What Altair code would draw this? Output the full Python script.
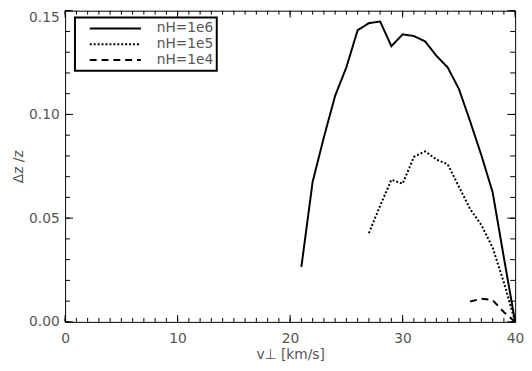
import altair as alt
import pandas as pd

# ---- data ----
series_names = ["nH=1e6", "nH=1e5", "nH=1e4"]

v_1e6 = [21, 22, 23, 24, 25, 26, 27, 28, 29, 30, 31, 32, 33, 34, 35, 36, 37, 38, 39, 40]
dz_1e6 = [0.0265, 0.0675, 0.089, 0.109, 0.1227, 0.1406, 0.1440, 0.1448, 0.1329, 0.1386,
          0.1378, 0.1352, 0.1283, 0.1227, 0.1123, 0.0967, 0.0803, 0.0625, 0.031, 0.0]

v_1e5 = [27, 28, 29, 30, 31, 32, 33, 34, 35, 36, 37, 38, 39, 40]
dz_1e5 = [0.0428, 0.056, 0.0685, 0.0666, 0.0795, 0.0822, 0.0783, 0.0760, 0.0652, 0.0544,
          0.0467, 0.0358, 0.019, 0.0]

v_1e4 = [36, 37, 38, 39, 40]
dz_1e4 = [0.0098, 0.0112, 0.0105, 0.0047, 0.0]

x_major = [0, 10, 20, 30, 40]
x_minor = list(range(0, 41))
y_major = [0.0, 0.05, 0.10, 0.15]
y_minor = [0.0, 0.01, 0.02, 0.03, 0.04, 0.05, 0.06, 0.07, 0.08, 0.09, 0.10,
           0.11, 0.12, 0.13, 0.14, 0.15]

# ---- build table ----
rows = []
for name, vs, ds in [(series_names[0], v_1e6, dz_1e6),
                     (series_names[1], v_1e5, dz_1e5),
                     (series_names[2], v_1e4, dz_1e4)]:
    for v, d in zip(vs, ds):
        rows.append({"series": name, "v": v, "dz": d})
df = pd.DataFrame(rows)

W, H = 457, 316
TXT = "#555555"
FONT = "DejaVu Sans"

xs = alt.Scale(domain=[0, 40], nice=False, zero=False)
ys = alt.Scale(domain=[0, 0.15], nice=False, zero=False)

lines = alt.Chart(df).mark_line(color="black", strokeWidth=2).encode(
    x=alt.X("v:Q", scale=xs, title="v⊥ [km/s]",
            axis=alt.Axis(values=x_major, format="d", ticks=False, tickSize=0, domain=False,
                          grid=False, labelFlush=False, labelOverlap=False,
                          labelPadding=10, titlePadding=2)),
    y=alt.Y("dz:Q", scale=ys, title="Δz /z",
            axis=alt.Axis(values=y_major, format=".2f", ticks=False, tickSize=0, domain=False,
                          grid=False, labelFlush=False, labelOverlap=False,
                          labelBaseline={"condition": {"test": "datum.value > 0.149", "value": "top"},
                                         "value": "middle"},
                          labelPadding=6, titlePadding=3)),
    strokeDash=alt.StrokeDash(
        "series:N", sort=series_names,
        scale=alt.Scale(domain=series_names, range=[[1, 0], [2, 2], [7, 5]]),
        legend=alt.Legend(title=None, orient="none", legendX=10, legendY=7,
                          strokeColor="black", fillColor="white", padding=3,
                          symbolType="stroke", symbolSize=2704, symbolStrokeWidth=2,
                          symbolStrokeColor="black", symbolOffset=11,
                          labelFontSize=14, labelColor=TXT, labelFont=FONT,
                          labelOffset=15, clipHeight=16, rowPadding=0)),
    detail="series:N",
)


def xticks(vals, length, top):
    d = pd.DataFrame({"v": vals})
    y0 = 0 if top else H
    y1 = length if top else H - length
    return alt.Chart(d).mark_rule(color="black", strokeWidth=1).encode(
        x=alt.X("v:Q", scale=xs), y=alt.value(y0), y2=alt.value(y1))


def yticks(vals, length, right):
    d = pd.DataFrame({"dz": vals})
    x0 = W if right else 0
    x1 = W - length if right else length
    return alt.Chart(d).mark_rule(color="black", strokeWidth=1).encode(
        y=alt.Y("dz:Q", scale=ys), x=alt.value(x0), x2=alt.value(x1))


chart = alt.layer(
    lines,
    xticks(x_minor, 4, False), xticks(x_major, 7, False),
    xticks(x_minor, 4, True), xticks(x_major, 7, True),
    yticks(y_minor, 5, False), yticks(y_major, 8, False),
    yticks(y_minor, 5, True), yticks(y_major, 8, True),
).properties(
    width=W, height=H,
    autosize=alt.AutoSizeParams(type="none"),
    padding={"left": 58, "top": 0, "right": 9, "bottom": 39},
).configure_view(
    stroke="black", strokeWidth=1
).configure_axis(
    labelFont=FONT, labelFontSize=14, labelColor=TXT,
    titleFont=FONT, titleFontSize=14, titleColor=TXT, titleFontWeight="normal",
).configure_legend(
    strokeWidth=2
)

chart.save("out.html", embed_options={"renderer": "svg", "actions": False})
